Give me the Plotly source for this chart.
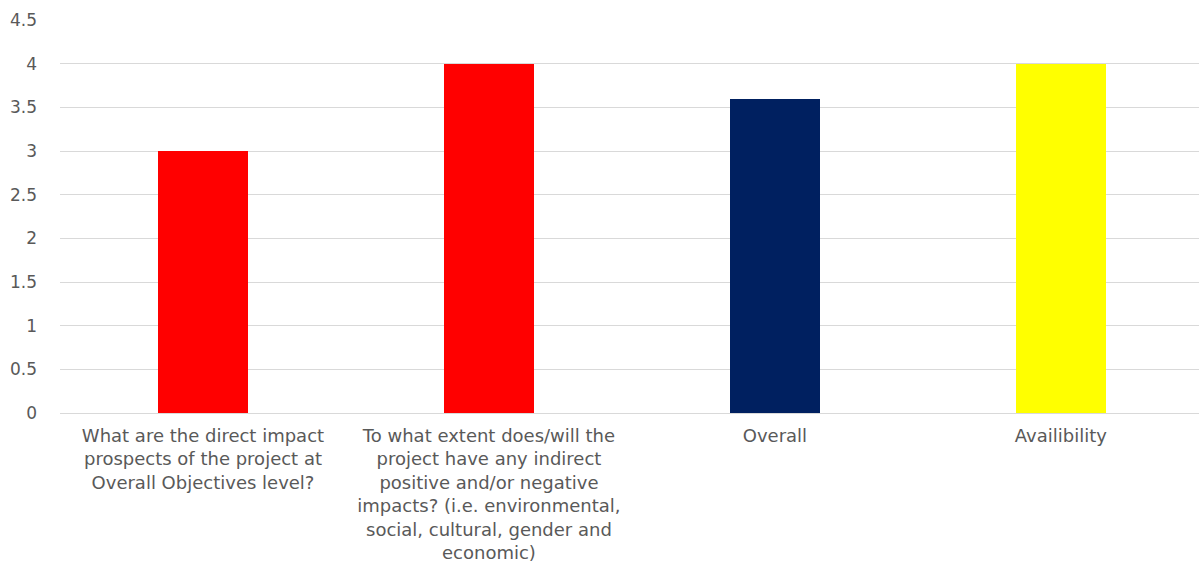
import plotly.graph_objects as go

# Category labels (wrapped as on the axis) and their scores
categories = [
    "What are the direct impact<br>prospects of the project at<br>Overall Objectives level?",
    "To what extent does/will the<br>project have any indirect<br>positive and/or negative<br>impacts? (i.e. environmental,<br>social, cultural, gender and<br>economic)",
    "Overall",
    "Availibility",
]
scores = [3, 4, 3.6, 4]
bar_colors = ["#FF0000", "#FF0000", "#002060", "#FFFF00"]

y_ticks = [0, 0.5, 1, 1.5, 2, 2.5, 3, 3.5, 4, 4.5]
y_tick_labels = ["0", "0.5", "1", "1.5", "2", "2.5", "3", "3.5", "4", "4.5"]

fig = go.Figure(
    go.Bar(
        x=list(range(len(categories))),
        y=scores,
        marker=dict(color=bar_colors, line=dict(width=0)),
        width=0.315,
        hoverinfo="skip",
    )
)

y_font = dict(family="DejaVu Sans, sans-serif", size=17, color="#595959")
x_font = dict(family="DejaVu Sans, sans-serif", size=18, color="#595959")

fig.update_layout(
    width=1199,
    height=570,
    margin=dict(l=60, r=0, t=20, b=157),
    paper_bgcolor="white",
    plot_bgcolor="white",
    showlegend=False,
    bargap=0,
    font=y_font,
    xaxis=dict(
        tickmode="array",
        tickvals=list(range(len(categories))),
        ticktext=categories,
        range=[-0.5, 3.483],
        showgrid=False,
        zeroline=False,
        showline=False,
        ticks="",
        tickfont=x_font,
        ticklabelstandoff=10,
        fixedrange=True,
    ),
    yaxis=dict(
        range=[0, 4.5],
        tickmode="array",
        tickvals=y_ticks,
        ticktext=y_tick_labels,
        showgrid=True,
        gridcolor="#D9D9D9",
        gridwidth=1,
        zeroline=True,
        zerolinecolor="#D9D9D9",
        zerolinewidth=1,
        showline=False,
        ticks="",
        tickfont=y_font,
        ticklabelstandoff=22,
        fixedrange=True,
    ),
)

fig.write_html("out.html")
